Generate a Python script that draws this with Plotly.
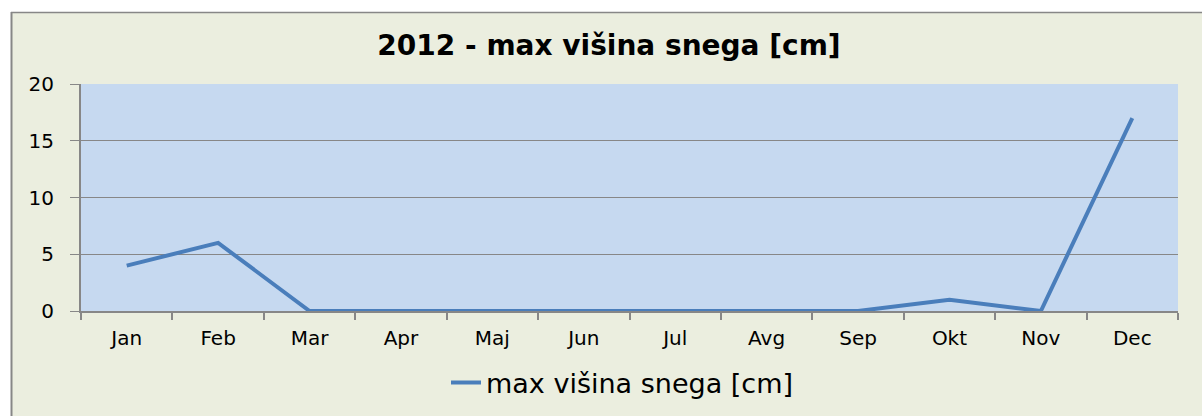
import plotly.graph_objects as go

months = ["Jan", "Feb", "Mar", "Apr", "Maj", "Jun", "Jul", "Avg", "Sep", "Okt", "Nov", "Dec"]
snow_cm = [4, 6, 0, 0, 0, 0, 0, 0, 0, 1, 0, 17]
series_name = "max višina snega [cm]"
title_text = "2012 - max višina snega [cm]"
y_ticks = [0, 5, 10, 15, 20]

W, H = 1202, 416
L, R, T, B = 81, W - 1178, 84, H - 311
pw, ph = W - L - R, H - T - B

def px_x(px):
    return (px - L) / pw

def px_y(py):
    return 1 - (py - T) / ph

FONT = "DejaVu Sans, Verdana, sans-serif"
GRAY = "#878787"

fig = go.Figure()
fig.add_trace(go.Scatter(
    x=months, y=snow_cm, mode="lines", name=series_name,
    line=dict(color="#4A7EBB", width=4),
))

fig.update_layout(
    width=W, height=H,
    margin=dict(l=L, r=R, t=T, b=B, autoexpand=False),
    paper_bgcolor="#EBEEDF",
    plot_bgcolor="#C6D9F0",
    font=dict(family=FONT, color="#000000", size=20),
    title=dict(text="<b>" + title_text + "</b>", x=px_x(609), xref="paper", xanchor="center",
               y=1 - 45 / H, yanchor="middle", font=dict(size=28, family=FONT)),
    showlegend=True,
    legend=dict(orientation="h", x=px_x(622), xanchor="center", xref="paper",
                y=px_y(383), yanchor="middle", font=dict(size=27, family=FONT),
                bgcolor="rgba(0,0,0,0)"),
    shapes=[
        dict(type="rect", xref="paper", yref="paper", x0=px_x(-5), x1=px_x(W + 5),
             y0=px_y(-5), y1=px_y(12), fillcolor="white", line=dict(width=0), layer="below"),
        dict(type="rect", xref="paper", yref="paper", x0=px_x(-5), x1=px_x(11),
             y0=px_y(H + 5), y1=px_y(-5), fillcolor="white", line=dict(width=0), layer="below"),
        dict(type="line", xref="paper", yref="paper", x0=px_x(11), x1=px_x(W + 5),
             y0=px_y(12.5), y1=px_y(12.5), line=dict(color=GRAY, width=1.5)),
        dict(type="line", xref="paper", yref="paper", x0=px_x(11.5), x1=px_x(11.5),
             y0=px_y(12), y1=px_y(H + 5), line=dict(color=GRAY, width=2)),
    ],
)

fig.update_xaxes(
    type="category", range=[-0.5, len(months) - 0.5], showgrid=False, showline=True,
    linecolor=GRAY, linewidth=2,
    ticks="outside", tickson="boundaries", ticklen=7, tickcolor=GRAY, tickwidth=2,
    tickfont=dict(size=20), zeroline=False, fixedrange=True, ticklabelstandoff=8,
)
fig.update_yaxes(
    range=[0, 20], tickvals=y_ticks, showgrid=True, gridcolor=GRAY, gridwidth=1,
    showline=True, linecolor=GRAY, linewidth=2, zeroline=False,
    ticks="outside", ticklen=9, tickcolor=GRAY, tickwidth=1,
    ticklabelstandoff=12, tickfont=dict(size=20), fixedrange=True,
)

fig.write_html("out.html", config={"displayModeBar": False},
               post_script="document.body.style.margin='0';")
